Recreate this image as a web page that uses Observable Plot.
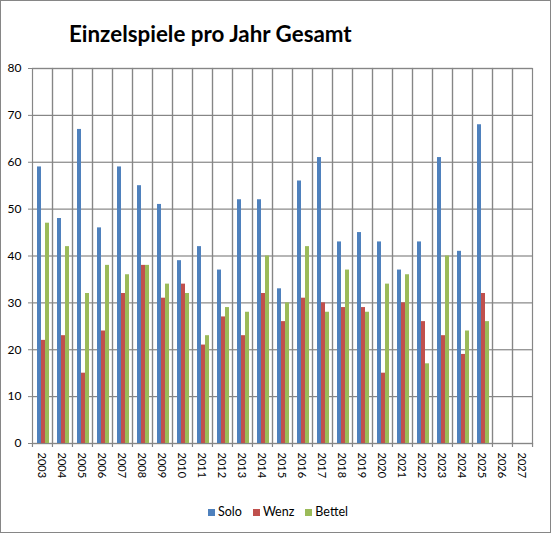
<!DOCTYPE html>
<html>
<head>
<meta charset="utf-8">
<script src="https://cdn.jsdelivr.net/npm/d3@7"></script>
<script src="https://cdn.jsdelivr.net/npm/@observablehq/plot@0.6"></script>
<style>
  html, body { margin: 0; padding: 0; background: #fff; }
  #chart { position: relative; width: 551px; height: 533px; background: #fff; font-family: Lato, "Open Sans", sans-serif; }
  #border { position: absolute; left: 0; top: 0; width: 551px; height: 533px; box-sizing: border-box; border: 1px solid #868686; pointer-events: none; }
  #title { position: absolute; left: 69px; top: 23px; font-weight: bold; line-height: 1; white-space: nowrap; color: #000; }
  #plot { position: absolute; left: 0; top: 58px; }
  #legend { position: absolute; left: 208px; top: 504px; display: flex; align-items: center; font-size: 12.5px; color: #000; line-height: 16px; }
  .sw { width: 7px; height: 7px; display: inline-block; margin-right: 3px; }
  .item { display: flex; align-items: center; margin-right: 11px; }
</style>
</head>
<body>
<div id="chart">
  <div id="title">Einzelspiele pro Jahr Gesamt</div>
  <div id="plot"></div>
  <div id="legend"></div>
  <div id="border"></div>
</div>
<script>
const years = ["2003","2004","2005","2006","2007","2008","2009","2010","2011","2012","2013","2014","2015","2016","2017","2018","2019","2020","2021","2022","2023","2024","2025","2026","2027"];
const seriesNames = ["Solo", "Wenz", "Bettel"];
const solo   = [59, 48, 67, 46, 59, 55, 51, 39, 42, 37, 52, 52, 33, 56, 61, 43, 45, 43, 37, 43, 61, 41, 68];
const wenz   = [22, 23, 15, 24, 32, 38, 31, 34, 21, 27, 23, 32, 26, 31, 30, 29, 29, 15, 30, 26, 23, 19, 32];
const bettel = [47, 42, 32, 38, 36, 38, 34, 32, 23, 29, 28, 40, 30, 42, 28, 37, 28, 34, 36, 17, 40, 24, 26];
const yTicks = [0, 10, 20, 30, 40, 50, 60, 70, 80];
const colors = ["#4F81BD", "#C0504D", "#9BBB59"];

const seriesValues = [solo, wenz, bettel];
const data = [];
years.forEach((yr, i) => {
  seriesNames.forEach((s, k) => {
    data.push({year: yr, series: s, value: seriesValues[k][i]});
  });
});

// Title sized to match reference width
const titleEl = document.getElementById("title");
(function fitTitle() {
  const c = document.createElement("canvas").getContext("2d");
  c.font = "bold 100px Lato";
  const w = c.measureText(titleEl.textContent).width;
  const fs = 100 * 284 / w;
  titleEl.style.fontSize = fs + "px";
  titleEl.style.top = (43 - 0.887 * fs) + "px";
})();

const W = 551, ML = 31, MR = 18, MT = 10, H = 430, MB = 45;
const step = (W - ML - MR) / years.length;
const grid = "#868686";

const chart = Plot.plot({
  width: W,
  height: H,
  marginLeft: ML,
  marginRight: MR,
  marginTop: MT,
  marginBottom: MB,
  style: {fontFamily: "Lato, 'Open Sans', sans-serif", fontSize: "12px", color: "#000", background: "transparent", overflow: "visible"},
  fx: {domain: years, padding: 0, axis: null, label: null},
  x: {domain: seriesNames, paddingInner: 0, paddingOuter: 0.64, axis: null, label: null},
  y: {domain: [0, 80], axis: null, label: null},
  color: {domain: seriesNames, range: colors},
  marks: [
    Plot.gridY(yTicks, {stroke: grid, strokeOpacity: 1, strokeWidth: 1.2}),
    Plot.frame({stroke: grid, strokeWidth: 1.2}),
    Plot.barY(data, {fx: "year", x: "series", y: "value", fill: "series", dx: 1}),
    Plot.axisY({ticks: yTicks, tickSize: 4, tickPadding: 7, stroke: grid, fontSize: 12, tickFormat: d => String(d), fill: "#000"}),
    Plot.axisFx({anchor: "bottom", tickSize: 4, stroke: grid, strokeWidth: 1.2, tickFormat: () => "", dx: -step / 2}),
    Plot.axisFx({anchor: "bottom", ticks: [years[years.length - 1]], tickSize: 4, stroke: grid, strokeWidth: 1.2, tickFormat: () => "", dx: step / 2}),
    Plot.axisFx({anchor: "bottom", tickSize: 0, tickPadding: 9, tickRotate: 90, fontSize: 11, tickFormat: d => String(d), fill: "#000", dx: -1})
  ]
});
document.getElementById("plot").appendChild(chart);

// Legend
const legend = document.getElementById("legend");
seriesNames.forEach((s, k) => {
  const item = document.createElement("div");
  item.className = "item";
  const sw = document.createElement("span");
  sw.className = "sw";
  sw.style.background = colors[k];
  const t = document.createElement("span");
  t.textContent = s;
  item.appendChild(sw);
  item.appendChild(t);
  legend.appendChild(item);
});
</script>
</body>
</html>
